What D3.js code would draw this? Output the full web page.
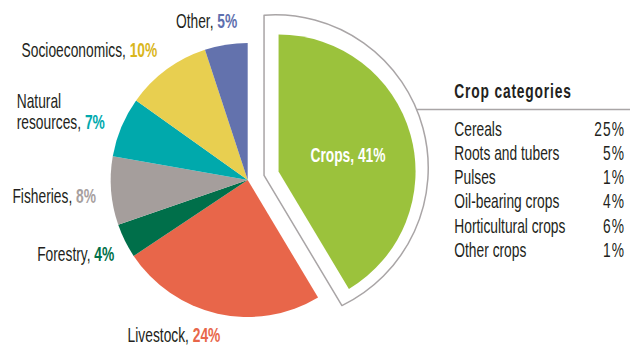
<!DOCTYPE html>
<html>
<head>
<meta charset="utf-8">
<script src="https://cdn.jsdelivr.net/npm/d3@7"></script>
<style>
  html, body { margin: 0; padding: 0; background: #fff; }
  svg { display: block; }
</style>
</head>
<body>
<div id="chart"></div>
<script>
// chart data
const categories = ["Crops", "Livestock", "Forestry", "Fisheries", "Natural resources", "Socioeconomics", "Other"];
const shares = [41, 24, 4, 8, 7, 10, 5];
const sliceColors = ["#9bc23c", "#e8664a", "#006f4a", "#a59e9c", "#00a9ac", "#e8cf50", "#6372ad"];
const pctColors = ["#ffffff", "#e8664a", "#00704a", "#a7a09e", "#00a9ad", "#d9b61c", "#5e6fae"];

const cropTypes = ["Cereals", "Roots and tubers", "Pulses", "Oil-bearing crops", "Horticultural crops", "Other crops"];
const cropShares = [25, 5, 1, 4, 6, 1];

// layout
const svgWidth = 630;
const svgHeight = 345;
const center = { x: 247.7, y: 180 };
const radius = 137;
const explode = 32;     // how far the crops slice is pulled out
const pad = 14.5;       // gap between crops slice and its outline
const FONT = "'Liberation Sans', Arial, sans-serif";
const SX = 0.69;        // squeeze text to look like a condensed face
const textColor = "#231f20";

// label anchor points (one per category, same order)
const labelPos = [
  { x: 348, y: 161.5, anchor: "middle" },
  { x: 174, y: 341.5, anchor: "middle" },
  { x: 114.3, y: 260.5, anchor: "end" },
  { x: 96, y: 203.3, anchor: "end" },
  { x: 16.7, y: 129, anchor: "start" },
  { x: 157.3, y: 57.3, anchor: "end" },
  { x: 237.3, y: 28, anchor: "end" }
];

const svg = d3.select("#chart").append("svg")
  .attr("width", svgWidth)
  .attr("height", svgHeight);

const pie = d3.pie().sort(null).value(d => d);
const arcs = pie(shares);
const arc = d3.arc().innerRadius(0).outerRadius(radius);

// unit vector for a d3 pie angle (0 = 12 o'clock, clockwise)
const dir = a => [Math.sin(a), -Math.cos(a)];

const crops = arcs[0];
const mid = (crops.startAngle + crops.endAngle) / 2;
const apex = [center.x + explode * dir(mid)[0], center.y + explode * dir(mid)[1]];

// outline around the exploded crops slice ----------------------------
const a0 = crops.startAngle, a1 = crops.endAngle;
const half = (a1 - a0) / 2;
const back = pad / Math.sin(half);
const q = [apex[0] - back * dir(mid)[0], apex[1] - back * dir(mid)[1]];
const oc = [apex[0] - 3.3, apex[1] - 3.6];   // outline arc centre
const R = radius + 16;
function edgePoint(a, side) {
  // point on the offset edge line that hits the outline circle
  const u = dir(a), n = dir(a + side * Math.PI / 2);
  const p0 = [apex[0] + pad * n[0], apex[1] + pad * n[1]];
  const dx = p0[0] - oc[0], dy = p0[1] - oc[1];
  const b = dx * u[0] + dy * u[1];
  const c = dx * dx + dy * dy - R * R;
  const s = -b + Math.sqrt(b * b - c);
  return [p0[0] + s * u[0], p0[1] + s * u[1]];
}
const e0 = edgePoint(a0, -1);
const e1 = edgePoint(a1, 1);

svg.append("path")
  .attr("d", `M${q[0]},${q[1]} L${e0[0]},${e0[1]} A${R},${R} 0 0 1 ${e1[0]},${e1[1]} Z`)
  .attr("fill", "#fff")
  .attr("stroke", "#a9a5a6")
  .attr("stroke-width", 1.5)
  .attr("stroke-linejoin", "round");

// legend rule starts at the outline arc
const ruleY = 109.5;
const ruleX = oc[0] + Math.sqrt(R * R - (ruleY - oc[1]) ** 2);
svg.append("line")
  .attr("x1", ruleX).attr("x2", svgWidth)
  .attr("y1", ruleY).attr("y2", ruleY)
  .attr("stroke", "#a9a5a6")
  .attr("stroke-width", 1.5);

// pie slices -----------------------------------------------------------
svg.append("g")
  .selectAll("path")
  .data(arcs)
  .enter()
  .append("path")
  .attr("transform", (d, i) => i === 0
    ? `translate(${apex[0]},${apex[1]})`
    : `translate(${center.x},${center.y})`)
  .attr("d", arc)
  .attr("fill", (d, i) => sliceColors[i]);

// slice labels -----------------------------------------------------------
function addText(x, y, anchor, parts) {
  const t = svg.append("text")
    .attr("transform", `translate(${x},${y}) scale(${SX},1)`)
    .attr("text-anchor", anchor)
    .attr("font-family", FONT)
    .attr("font-size", 20);
  parts.forEach(p => {
    t.append("tspan")
      .text(p.text)
      .attr("fill", p.color)
      .attr("font-weight", p.bold ? 700 : 400);
  });
  return t;
}

categories.forEach((name, i) => {
  const pos = labelPos[i];
  const pct = `${shares[i]}%`;
  if (i === 0) {
    addText(pos.x, pos.y, pos.anchor, [{ text: `${name}, ${pct}`, color: "#fff", bold: true }]);
  } else if (name === "Natural resources") {
    const words = name.split(" ");
    addText(pos.x, pos.y - 21, pos.anchor, [{ text: words[0], color: textColor }]);
    addText(pos.x, pos.y, pos.anchor, [
      { text: `${words[1]}, `, color: textColor },
      { text: pct, color: pctColors[i], bold: true }
    ]);
  } else {
    addText(pos.x, pos.y, pos.anchor, [
      { text: `${name}, `, color: textColor },
      { text: pct, color: pctColors[i], bold: true }
    ]);
  }
});

// crop categories legend --------------------------------------------------
const legendX = 454.3;
const legendRight = 625;
addText(legendX, 98.3, "start", [{ text: "Crop categories", color: textColor, bold: true }])
  .attr("letter-spacing", 1.2);

const rowY = d3.scalePoint()
  .domain(cropTypes)
  .range([135.7, 256.7]);

cropTypes.forEach((c, i) => {
  addText(legendX, rowY(c), "start", [{ text: c, color: textColor }]);
  addText(legendRight, rowY(c), "end", [{ text: `${cropShares[i]}%`, color: textColor }])
    .attr("letter-spacing", 1.5);
});
</script>
</body>
</html>
